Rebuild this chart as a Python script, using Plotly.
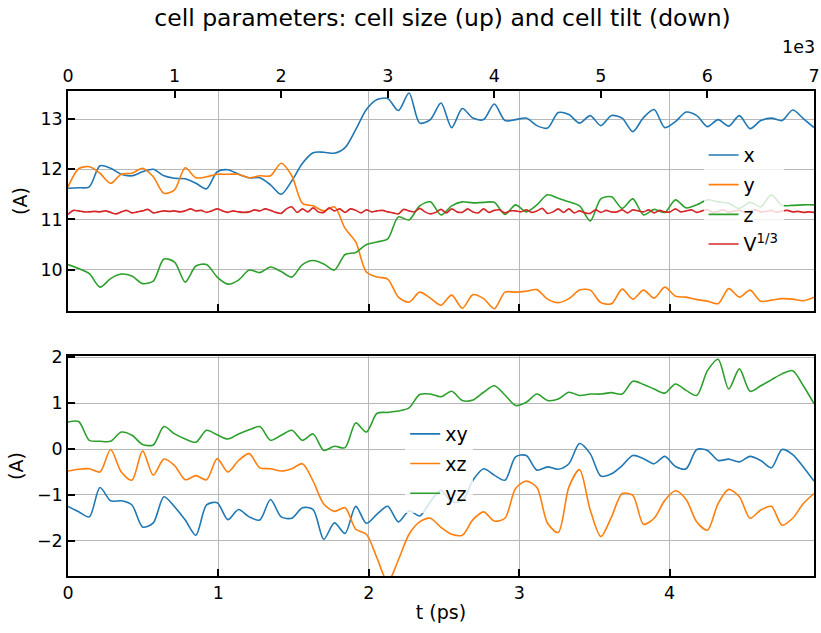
import numpy as np
import plotly.graph_objects as go

# ---------------- data ----------------
# top panel: sampled every 100 MD steps (axis in units of 1e3 steps)
steps_k = np.arange(71) * 0.1
steps_k_fine = np.arange(141) * 0.05

cell_x = [11.62, 11.63, 11.65, 12.07, 12.02, 11.90, 11.87, 11.95, 12.00, 11.87, 11.82, 11.81, 11.72, 11.61,
          11.95, 11.99, 11.90, 11.83, 11.83, 11.69, 11.50, 11.77, 12.12, 12.33,
          12.34, 12.32, 12.43, 12.79, 13.19, 13.39, 13.41, 13.17, 13.52, 12.92, 12.99, 13.32, 12.83, 13.21,
          13.02, 12.99, 13.30, 12.97, 12.99, 13.02, 12.87, 12.82, 13.13,
          13.09, 12.92, 13.07, 12.87, 13.07, 13.02, 12.75, 13.03, 13.19, 12.83, 12.95, 13.14, 13.07, 12.85,
          12.99, 12.86, 13.07, 12.81, 12.97, 13.02, 12.97, 13.18, 13.01, 12.83]
cell_y = [11.65, 12.01, 12.05, 11.92, 11.72, 11.90, 11.92, 12.02, 11.85, 11.52, 11.59, 12.03, 11.83, 11.85,
          11.90, 11.90, 11.90, 11.83, 11.87, 11.87, 12.12, 11.87, 11.32, 11.27,
          11.17, 11.25, 10.82, 10.55, 9.95, 9.85, 9.81, 9.45, 9.35, 9.55, 9.43, 9.29, 9.49, 9.23, 9.50, 9.42,
          9.22, 9.55, 9.55, 9.57, 9.60, 9.41, 9.34,
          9.42, 9.59, 9.59, 9.34, 9.32, 9.61, 9.41, 9.59, 9.43, 9.65, 9.47, 9.45, 9.40, 9.37, 9.32, 9.62,
          9.45, 9.59, 9.37, 9.39, 9.42, 9.41, 9.38, 9.45]
cell_z = [10.10, 10.02, 9.92, 9.65, 9.82, 9.91, 9.87, 9.72, 9.77, 10.21, 10.15, 9.75, 10.07, 10.10,
          9.85, 9.71, 9.79, 9.99, 9.94, 10.05, 9.96, 9.85, 10.10, 10.18,
          10.11, 9.99, 10.30, 10.34, 10.50, 10.55, 10.61, 11.05, 10.99, 11.27, 11.35, 11.09, 11.27, 11.35,
          11.33, 11.34, 11.34, 11.10, 11.29, 11.15, 11.29, 11.49, 11.42,
          11.35, 11.27, 10.97, 11.41, 11.45, 11.22, 11.41, 11.09, 11.20, 11.14, 11.39, 11.23, 11.29, 11.39,
          11.35, 11.32, 11.22, 11.34, 11.25, 11.49, 11.28, 11.28, 11.29, 11.29]
vol_cbrt = [11.10, 11.18, 11.17, 11.15, 11.15, 11.16, 11.15, 11.17, 11.14, 11.11,
            11.15, 11.18, 11.13, 11.15, 11.17, 11.20, 11.13, 11.15, 11.17, 11.16,
            11.17, 11.15, 11.17, 11.21, 11.17, 11.18, 11.14, 11.17, 11.21, 11.17,
            11.14, 11.17, 11.15, 11.14, 11.15, 11.19, 11.17, 11.21, 11.18, 11.14,
            11.12, 11.21, 11.25, 11.14, 11.21, 11.15, 11.23,
            11.15, 11.14, 11.23, 11.17, 11.21, 11.14, 11.21, 11.18, 11.13, 11.19,
            11.15, 11.17, 11.18, 11.15, 11.13, 11.11, 11.20, 11.17, 11.15, 11.22,
            11.15, 11.11, 11.14, 11.20, 11.13, 11.21, 11.15, 11.14, 11.21, 11.15,
            11.13, 11.21, 11.14, 11.18, 11.19, 11.13, 11.17, 11.17, 11.15, 11.19,
            11.14, 11.17, 11.22, 11.12, 11.15, 11.21,
            11.14, 11.21, 11.13, 11.17, 11.13, 11.12, 11.19, 11.14, 11.18, 11.15,
            11.15, 11.19, 11.13, 11.19, 11.17, 11.15, 11.19, 11.13, 11.18, 11.15,
            11.15, 11.21, 11.15, 11.17, 11.19, 11.14,
            11.17, 11.19, 11.14, 11.16, 11.19, 11.14, 11.17, 11.18, 11.14, 11.17,
            11.19, 11.15, 11.16, 11.18, 11.14, 11.17, 11.18, 11.15, 11.16, 11.14, 11.15, 11.14]

# bottom panel: same frames against time (ps)
T_MAX_PS = 4.96
t_ps = steps_k * T_MAX_PS / 7.0

tilt_xy = [-1.25, -1.37, -1.48, -0.84, -1.13, -1.13, -1.22, -1.70, -1.61, -1.04, -1.26, -1.55, -1.88, -1.22,
           -1.17, -1.54, -1.32, -1.48, -1.55, -1.10, -1.48, -1.51, -1.28, -1.32,
           -1.97, -1.61, -1.84, -1.25, -1.62, -1.42, -1.25, -1.59, -1.35, -1.46, -1.15, -0.90, -1.15, -1.13,
           -0.68, -0.43, -0.57, -0.68, -0.17, -0.14, -0.46, -0.39, -0.44,
           -0.32, 0.12, -0.10, -0.59, -0.54, -0.36, -0.14, -0.21, -0.32, -0.16, -0.38, -0.43, -0.01, -0.03,
           -0.25, -0.22, -0.28, -0.16, -0.25, -0.41, -0.01, -0.12, -0.39, -0.70]
tilt_xz = [-0.48, -0.44, -0.43, -0.50, -0.01, -0.50, -0.68, -0.04, -0.57, -0.22, -0.36, -0.67, -0.58, -0.67,
           -0.21, -0.50, -0.25, -0.10, -0.41, -0.43, -0.48, -0.43, -0.32, -0.70,
           -1.20, -1.36, -1.28, -1.75, -1.86, -2.38, -2.90, -2.42, -1.86, -1.59, -1.51, -1.71, -1.86, -1.88,
           -1.54, -1.37, -1.57, -1.51, -0.86, -0.70, -0.84, -1.62, -1.82,
           -0.83, -0.45, -1.33, -1.91, -1.48, -0.97, -1.01, -1.64, -1.51, -1.12, -0.91, -1.10, -1.59, -1.77,
           -1.19, -0.88, -1.04, -1.51, -1.33, -1.25, -1.66, -1.51, -1.19, -0.97]
tilt_yz = [0.59, 0.60, 0.19, 0.17, 0.17, 0.37, 0.30, 0.10, 0.09, 0.49, 0.33, 0.22, 0.15, 0.41,
           0.31, 0.22, 0.33, 0.42, 0.49, 0.19, 0.30, 0.41, 0.19, 0.33,
           -0.03, 0.06, 0.03, 0.57, 0.37, 0.78, 0.80, 0.83, 0.90, 1.19, 1.20, 1.14, 1.26, 1.06,
           1.07, 1.24, 1.38, 1.18, 0.95, 1.02, 1.20, 1.06, 1.09,
           1.24, 1.17, 1.20, 1.20, 1.23, 1.20, 1.48, 1.41, 1.31, 1.22, 1.42, 1.28, 1.17, 1.71,
           1.96, 1.31, 1.75, 1.26, 1.38, 1.51, 1.64, 1.71, 1.38, 0.99]

top_ticks = [0, 1, 2, 3, 4, 5, 6, 7]
t_ticks = [0, 1, 2, 3, 4]

COLORS = ["#1f77b4", "#ff7f0e", "#2ca02c", "#d62728"]
FONT = "DejaVu Sans, Liberation Sans, sans-serif"
TICK_SIZE = 17.5
LABEL_SIZE = 19
LEGEND_SIZE = 19
TITLE_SIZE = 23.5

# ---------------- figure ----------------
fig = go.Figure()

top_series = [("x", steps_k, cell_x), ("y", steps_k, cell_y), ("z", steps_k, cell_z),
              ("V<sup>1/3</sup>", steps_k_fine, vol_cbrt)]
for i, (name, xs, ys) in enumerate(top_series):
    fig.add_trace(go.Scatter(x=xs, y=ys, name=name, mode="lines",
                             line=dict(color=COLORS[i], width=1.6, shape="spline", smoothing=0.8),
                             xaxis="x3", yaxis="y", legend="legend", legendgroup=f"t{i}"))

bot_series = [("xy", tilt_xy), ("xz", tilt_xz), ("yz", tilt_yz)]
for i, (name, ys) in enumerate(bot_series):
    fig.add_trace(go.Scatter(x=t_ps, y=ys, name=name, mode="lines",
                             line=dict(color=COLORS[i], width=1.6, shape="spline", smoothing=0.8),
                             xaxis="x2", yaxis="y2", legend="legend2", legendgroup=f"b{i}"))

# helper invisible trace so the top panel's time axis (grid only) is laid out
fig.add_trace(go.Scatter(x=[0, T_MAX_PS], y=[None, None], mode="lines", showlegend=False,
                         hoverinfo="skip", xaxis="x", yaxis="y"))

axis_common = dict(showline=True, linecolor="black", linewidth=1.6, ticks="inside",
                   ticklen=7, tickwidth=1.6, tickcolor="black", zeroline=False, automargin=False,
                   ticklabeloverflow="allow",
                   tickfont=dict(size=TICK_SIZE, color="black", family=FONT))
grid = dict(showgrid=True, gridcolor="#b8b8b8", gridwidth=1)

H_TOP0 = 0.546
H_BOT1 = 0.4536

fig.update_layout(
    width=821, height=633,
    margin=dict(l=68, r=7, t=91, b=57),
    paper_bgcolor="white", plot_bgcolor="white",
    font=dict(family=FONT, size=TICK_SIZE, color="black"),
    title=dict(text="cell parameters: cell size (up) and cell tilt (down)",
               x=0.539, xanchor="center", y=0.972, yanchor="middle",
               font=dict(size=TITLE_SIZE, family=FONT, color="black")),
    xaxis=dict(domain=[0, 1], anchor="y", range=[0, T_MAX_PS], tickvals=t_ticks,
               showticklabels=False, mirror=True, **grid, **axis_common),
    xaxis3=dict(overlaying="x", anchor="y", side="top", range=[0, 7], tickvals=top_ticks,
                showgrid=False, **axis_common),
    yaxis=dict(domain=[H_TOP0, 1], anchor="x", range=[9.17, 13.56], tickvals=[10, 11, 12, 13],
               mirror=True, title=dict(text="(A)", font=dict(size=LABEL_SIZE), standoff=8),
               **grid, **axis_common),
    xaxis2=dict(domain=[0, 1], anchor="y2", range=[0, T_MAX_PS], tickvals=t_ticks,
                mirror=True, title=dict(text="t (ps)", font=dict(size=LABEL_SIZE), standoff=4),
                **grid, **axis_common),
    yaxis2=dict(domain=[0, H_BOT1], anchor="x2", range=[-2.77, 2.03], tickvals=[-2, -1, 0, 1, 2],
                mirror=True, title=dict(text="(A)", font=dict(size=LABEL_SIZE), standoff=8),
                **grid, **axis_common),
    legend=dict(x=0.852, y=0.907, xanchor="left", yanchor="top", bgcolor="rgba(255,255,255,0.8)",
                borderwidth=0, font=dict(size=LEGEND_SIZE), tracegroupgap=2, traceorder="grouped"),
    legend2=dict(x=0.452, y=0.332, xanchor="left", yanchor="top", bgcolor="rgba(255,255,255,0.8)",
                 borderwidth=0, font=dict(size=LEGEND_SIZE), tracegroupgap=2, traceorder="grouped"),
    annotations=[dict(text="1e3", x=1.004, xref="paper", xanchor="right", y=1.091, yref="paper",
                      yanchor="middle", showarrow=False, font=dict(size=TICK_SIZE, family=FONT))],
    showlegend=True,
)

fig.write_html("out.html")
